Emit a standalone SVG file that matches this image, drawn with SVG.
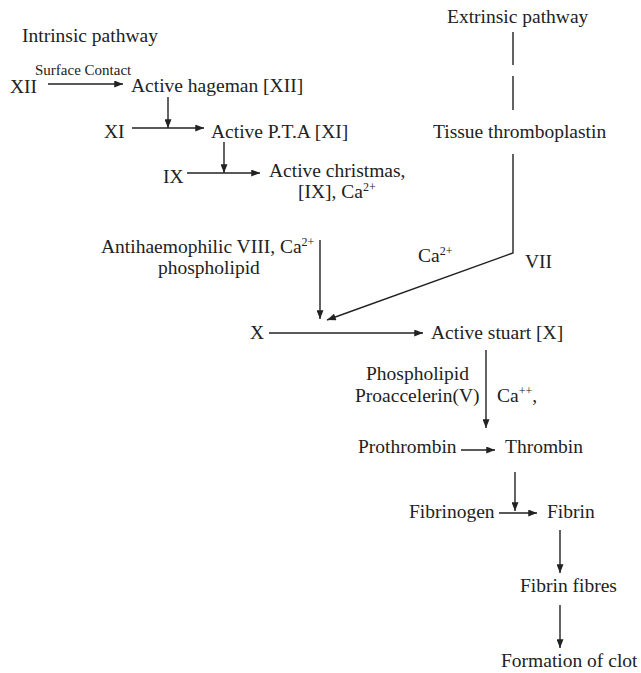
<svg xmlns="http://www.w3.org/2000/svg" width="641" height="673" viewBox="0 0 641 673">
<defs>
<style>
text{font-family:"Liberation Serif","Times New Roman",serif;font-size:19.5px;fill:#222}
.sm{font-size:15px}
.sup{font-size:12px}
.ln{stroke:#222;stroke-width:1.4;fill:none}
</style>
<marker id="ah" viewBox="0 0 10 8" refX="10" refY="4" markerWidth="10" markerHeight="7" markerUnits="userSpaceOnUse" orient="auto"><path d="M0,0 L10,4 L0,8 z" fill="#222"/></marker>
</defs>
<rect width="641" height="673" fill="#fff"/>
<g id="connectors">
<path class="ln" d="M48,84 H123" marker-end="url(#ah)"/>
<path class="ln" d="M168,97 V128" marker-end="url(#ah)"/>
<path class="ln" d="M132,128 H204" marker-end="url(#ah)"/>
<path class="ln" d="M224,142 V173" marker-end="url(#ah)"/>
<path class="ln" d="M187,173 H260" marker-end="url(#ah)"/>
<path class="ln" d="M513,32 V65 M513,76 V110"/>
<path class="ln" d="M513,154 V253 L327,320" marker-end="url(#ah)"/>
<path class="ln" d="M320,240 V319" marker-end="url(#ah)"/>
<path class="ln" d="M269,333 H423" marker-end="url(#ah)"/>
<path class="ln" d="M486,350 V428" marker-end="url(#ah)"/>
<path class="ln" d="M461,450 H495" marker-end="url(#ah)"/>
<path class="ln" d="M515,472 V511" marker-end="url(#ah)"/>
<path class="ln" d="M499,513 H537" marker-end="url(#ah)"/>
<path class="ln" d="M560,530 V573" marker-end="url(#ah)"/>
<path class="ln" d="M560,605 V648" marker-end="url(#ah)"/>
</g>
<g id="intrinsic"><text x="22" y="42">Intrinsic pathway</text></g>
<g id="surface"><text class="sm" x="35" y="75">Surface Contact</text></g>
<g id="xii"><text x="10" y="93">XII</text></g>
<g id="hageman"><text x="131" y="92">Active hageman [XII]</text></g>
<g id="xi"><text x="104" y="138">XI</text></g>
<g id="pta"><text x="211" y="138">Active P.T.A [XI]</text></g>
<g id="ix"><text x="163" y="183">IX</text></g>
<g id="christmas"><text x="269" y="177">Active christmas,</text><text x="298" y="198">[IX], Ca<tspan class="sup" dy="-7">2+</tspan></text></g>
<g id="extrinsic"><text x="447" y="23">Extrinsic pathway</text></g>
<g id="tissue"><text x="433" y="138">Tissue thromboplastin</text></g>
<g id="ca-vii"><text x="418" y="262">Ca<tspan class="sup" dy="-7">2+</tspan></text></g>
<g id="vii"><text x="525" y="268">VII</text></g>
<g id="antihaem"><text x="101" y="253">Antihaemophilic VIII, Ca<tspan class="sup" dy="-7">2+</tspan></text><text x="158" y="274">phospholipid</text></g>
<g id="x"><text x="250" y="339">X</text></g>
<g id="stuart"><text x="431" y="339">Active stuart [X]</text></g>
<g id="phospho"><text x="366" y="380">Phospholipid</text><text x="355" y="402">Proaccelerin(V)</text></g>
<g id="ca-pp"><text x="497" y="402">Ca<tspan class="sup" dy="-7">++</tspan><tspan dy="7">,</tspan></text></g>
<g id="prothrombin"><text x="358" y="453">Prothrombin</text></g>
<g id="thrombin"><text x="505" y="453">Thrombin</text></g>
<g id="fibrinogen"><text x="409" y="518">Fibrinogen</text></g>
<g id="fibrin"><text x="547" y="518">Fibrin</text></g>
<g id="fibres"><text x="520" y="592">Fibrin fibres</text></g>
<g id="clot"><text x="501" y="667">Formation of clot</text></g>
</svg>
